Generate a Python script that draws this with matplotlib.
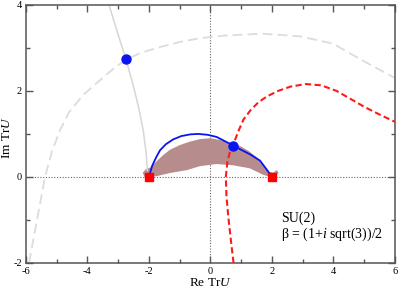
import matplotlib
matplotlib.use("Agg")
import matplotlib.pyplot as plt
import numpy as np

plt.rcParams['font.family'] = ['Liberation Serif', 'DejaVu Serif']
plt.rcParams['mathtext.fontset'] = 'custom'
plt.rcParams['mathtext.rm'] = 'Liberation Serif'
plt.rcParams['mathtext.it'] = 'Liberation Serif:italic'
plt.rcParams['axes.unicode_minus'] = False

# gray dashed curve
gray_dash_x = [-5.9, -5.64, -5.38, -5.15, -4.89, -4.6, -4.15, -3.59, -3.1, -2.75, -2.29, -1.64, -0.99, -0.3, 0.5, 1.7, 2.9, 3.98, 5.09, 6.0]
gray_dash_y = [-2.0, -1.0, 0.0, 0.6, 1.09, 1.5, 1.9, 2.25, 2.55, 2.72, 2.88, 3.02, 3.14, 3.23, 3.29, 3.33, 3.27, 3.1, 2.65, 2.3]

# gray solid curve
gray_x = [-3.3, -3.02, -2.75, -2.52, -2.33, -2.18, -2.09, -2.05]
gray_y = [4.0, 3.35, 2.74, 2.15, 1.6, 1.05, 0.55, 0.15]

# red dashed curve
red_x = [0.75, 0.66, 0.58, 0.52, 0.5, 0.55, 0.64, 0.74, 0.9, 1.07, 1.3, 1.55, 1.83, 2.2, 2.6, 3.1, 3.6, 4.1, 4.54, 5.0, 5.5, 6.0]
red_y = [-2.0, -1.45, -0.93, -0.45, 0.0, 0.35, 0.6, 0.75, 1.05, 1.33, 1.55, 1.73, 1.87, 2.0, 2.1, 2.16, 2.13, 2.0, 1.82, 1.63, 1.45, 1.28]

# blue solid curve
blue_x = [-2.0, -1.9, -1.77, -1.64, -1.45, -1.22, -0.95, -0.65, -0.4, -0.1, 0.2, 0.5, 0.74, 1.0, 1.3, 1.61, 1.8, 2.0]
blue_y = [0.0, 0.25, 0.45, 0.62, 0.76, 0.87, 0.95, 0.99, 1.0, 0.98, 0.93, 0.82, 0.73, 0.63, 0.52, 0.38, 0.2, 0.0]

# shaded region boundary
shade_x = [-2.15, -2.2, -2.1, -1.95, -1.8, -1.55, -1.32, -1.0, -0.67, -0.34, 0.0, 0.31, 0.6, 0.96, 1.25, 1.51, 1.75, 1.9, 2.05, 2.15, 2.22, 2.1, 1.95, 1.71, 1.28, 0.74, 0.2, -0.02, -0.34, -0.76, -1.32, -1.74, -2.0]
shade_y = [0.0, 0.1, 0.18, 0.22, 0.33, 0.5, 0.63, 0.74, 0.82, 0.88, 0.9, 0.86, 0.8, 0.72, 0.6, 0.45, 0.25, 0.12, 0.1, 0.16, 0.1, 0.0, 0.0, 0.05, 0.2, 0.27, 0.3, 0.28, 0.25, 0.16, 0.09, 0.02, 0.0]

# markers
dot_x = [-2.75, 0.74]
dot_y = [2.74, 0.73]
sq_x = [-2.0, 2.0]
sq_y = [0.0, 0.0]

xticks = [-6, -4, -2, 0, 2, 4, 6]
yticks = [-2, 0, 2, 4]

fig = plt.figure(figsize=(3.99, 2.88), dpi=100)
ax = fig.add_axes([0.065, 0.087, 0.925, 0.896])

ax.axhline(0, color='#666666', lw=0.8, ls=(0, (1, 1.5)), zorder=1)
ax.axvline(0, color='#666666', lw=0.8, ls=(0, (1, 1.5)), zorder=1)

ax.fill(shade_x, shade_y, color='#b78c8c', lw=0, zorder=2)
ax.plot(gray_dash_x, gray_dash_y, color='#dcdcdc', lw=1.3, ls=(0, (5.5, 2.8)), zorder=2)
ax.plot(gray_x, gray_y, color='#d6d6d6', lw=1.1, zorder=2)
ax.plot(red_x, red_y, color='#ff1a1a', lw=1.5, ls=(0, (3.0, 1.6)), zorder=3)
ax.plot(blue_x, blue_y, color='#0a14f0', lw=1.3, zorder=4)
ax.plot(dot_x, dot_y, 'o', color='#0a14f0', ms=6.5, zorder=5)
ax.plot(sq_x, sq_y, 's', color='#ff0000', ms=6, zorder=5)

ax.set_xlim(-6, 6)
ax.set_ylim(-2, 4)
ax.set_xticks(xticks)
ax.set_yticks(yticks)
ax.set_xticks(np.arange(-6, 7, 1), minor=True)
ax.set_yticks(np.arange(-2, 5, 1), minor=True)
ax.tick_params(which='both', direction='in', top=True, right=True, color='#555555', labelsize=7.5, pad=3)
ax.tick_params(which='major', length=5, width=1)
ax.tick_params(which='minor', length=3, width=1)
for s in ax.spines.values():
    s.set_color('#555555')
    s.set_linewidth(1.1)

ax.set_xlabel(r'Re Tr$\it{U}$', fontsize=9.5, labelpad=1)
ax.set_ylabel(r'Im Tr$\it{U}$', fontsize=9.5)
ax.yaxis.set_label_coords(-0.034, 0.484)

ax.text(2.29, -1.05, 'SU(2)', fontsize=10)
ax.text(2.29, -1.42, r'β = (1+$\it{i}$ sqrt(3))/2', fontsize=10)

fig.savefig('out.png', dpi=100)
